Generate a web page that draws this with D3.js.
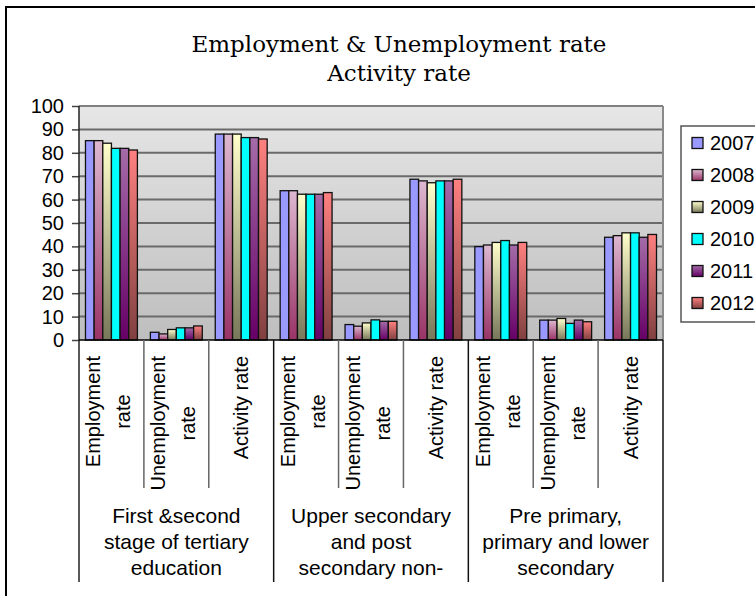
<!DOCTYPE html>
<html><head><meta charset="utf-8">
<script src="https://cdn.jsdelivr.net/npm/d3@7/dist/d3.min.js"></script>
<style>body{margin:0;background:#fff}svg{display:block}</style>
</head><body><svg id="c" width="755" height="596"></svg>
<script>
// ---- data ----
const titleLines = ["Employment & Unemployment rate", "Activity rate"];
const groups = [
  "First &second stage of tertiary education",
  "Upper secondary and post secondary non-",
  "Pre primary, primary and lower secondary"
];
const measures = ["Employment rate", "Unemployment rate", "Activity rate"];
const years = ["2007", "2008", "2009", "2010", "2011", "2012"];
const v2007 = [85.2, 3.3, 88.0, 63.8, 6.6, 68.7, 39.9, 8.5, 43.9];
const v2008 = [85.2, 2.6, 88.0, 63.8, 5.9, 68.0, 40.6, 8.5, 44.6];
const v2009 = [84.1, 4.5, 88.0, 62.3, 7.3, 67.2, 41.7, 9.2, 45.8];
const v2010 = [81.9, 5.2, 86.5, 62.3, 8.6, 68.0, 42.5, 7.1, 45.8];
const v2011 = [81.9, 5.2, 86.5, 62.3, 8.0, 68.0, 40.6, 8.5, 43.9];
const v2012 = [81.2, 6.0, 85.9, 63.0, 8.0, 68.7, 41.7, 7.8, 45.1];
const yTicks = [0, 10, 20, 30, 40, 50, 60, 70, 80, 90, 100];
const colorTop = ["#9999FF", "#DDB8D0", "#FFFFCC", "#00FFFF", "#A46CA8", "#FF8080"];
const colorBottom = ["#9999FF", "#993366", "#77775A", "#00FFFF", "#660066", "#804040"];

const series = [v2007, v2008, v2009, v2010, v2011, v2012];
const cats = [];
groups.forEach((g, gi) => measures.forEach((m, mi) => cats.push({g: gi, m: m, i: gi * 3 + mi})));

// ---- layout ----
const svg = d3.select("#c");
const X0 = 79, X1 = 663, YT = 106, YB = 340;
const sans = "'Liberation Sans', Arial, sans-serif";

const defs = svg.append("defs");
const bg = defs.append("linearGradient").attr("id", "bg").attr("x1", 0).attr("y1", 0).attr("x2", 0).attr("y2", 1);
bg.append("stop").attr("offset", 0).attr("stop-color", "#E6E6E6");
bg.append("stop").attr("offset", 1).attr("stop-color", "#BEBEBE");
years.forEach((y, k) => {
  const g = defs.append("linearGradient").attr("id", "g" + k).attr("x1", 0).attr("y1", 0).attr("x2", 0).attr("y2", 1);
  g.append("stop").attr("offset", 0).attr("stop-color", colorTop[k]);
  g.append("stop").attr("offset", 1).attr("stop-color", colorBottom[k]);
});

// outer frame
svg.append("rect").attr("x", 6).attr("y", 7).attr("width", 800).attr("height", 700)
  .attr("fill", "none").attr("stroke", "#000").attr("stroke-width", 2);

// title
svg.append("g").selectAll("text").data(titleLines).join("text")
  .attr("x", 399).attr("y", (d, i) => 52 + i * 29)
  .attr("text-anchor", "middle")
  .style("font-family", "'DejaVu Serif', serif").style("font-size", "23px").attr("fill", "#000")
  .text(d => d);

const x = d3.scaleBand().domain(d3.range(cats.length)).range([X0, X1]).padding(0);
const bw = x.bandwidth();
const xi = d3.scaleBand().domain(years).range([0.1 * bw, 0.9 * bw]).padding(0);
const y = d3.scaleLinear().domain([0, 100]).range([YB, YT]);

// plot background
svg.append("rect").attr("x", X0).attr("y", YT).attr("width", X1 - X0).attr("height", YB - YT).attr("fill", "url(#bg)");

// gridlines
svg.append("g").selectAll("line").data(yTicks.filter(t => t > 0)).join("line")
  .attr("x1", X0).attr("x2", X1).attr("y1", d => y(d)).attr("y2", d => y(d))
  .attr("stroke", "#6a6a6a").attr("stroke-width", 2);
svg.append("line").attr("x1", X1).attr("x2", X1).attr("y1", YT).attr("y2", YB)
  .attr("stroke", "#8a8a8a").attr("stroke-width", 2);
svg.append("line").attr("x1", X0).attr("x2", X1).attr("y1", YT).attr("y2", YT)
  .attr("stroke", "#808080").attr("stroke-width", 2);

// bars
const barG = svg.append("g");
years.forEach((yr, k) => {
  barG.append("g").selectAll("rect").data(series[k]).join("rect")
    .attr("x", (d, i) => x(i) + xi(yr))
    .attr("y", d => y(d))
    .attr("width", xi.bandwidth())
    .attr("height", d => YB - y(d))
    .attr("fill", "url(#g" + k + ")")
    .attr("stroke", "#111").attr("stroke-width", 1.3);
});

// y axis
const yAxis = d3.axisLeft(y).tickValues(yTicks).tickSize(7).tickPadding(8);
const ya = svg.append("g").attr("transform", `translate(${X0},0)`).call(yAxis);
ya.select(".domain").remove();
ya.selectAll(".tick line").attr("stroke", "#444").attr("stroke-width", 1.5);
ya.selectAll(".tick text").style("font-family", sans).style("font-size", "20px").attr("fill", "#000");
svg.append("line").attr("x1", X0).attr("x2", X0).attr("y1", YT).attr("y2", 582)
  .attr("stroke", "#222").attr("stroke-width", 1.5);
svg.append("line").attr("x1", X0).attr("x2", X1).attr("y1", YB).attr("y2", YB)
  .attr("stroke", "#000").attr("stroke-width", 1.5);

// category separators
const bounds = d3.range(1, cats.length + 1);
svg.append("g").selectAll("line").data(bounds).join("line")
  .attr("x1", d => (d < cats.length ? x(d) : X1)).attr("x2", d => (d < cats.length ? x(d) : X1))
  .attr("y1", YB).attr("y2", d => (d % 3 === 0 ? 582 : 488))
  .attr("stroke", d => (d % 3 === 0 ? "#111" : "#666")).attr("stroke-width", 1.5);

// word wrap helper
const measurer = svg.append("text").style("font-family", sans).style("visibility", "hidden");
function textW(s, size) { measurer.style("font-size", size + "px").text(s); return measurer.node().getComputedTextLength(); }
function wrap(s, size, maxW) {
  const words = s.split(" ");
  const lines = []; let cur = words[0];
  for (let i = 1; i < words.length; i++) {
    const cand = cur + " " + words[i];
    if (textW(cand, size) <= maxW) cur = cand; else { lines.push(cur); cur = words[i]; }
  }
  lines.push(cur);
  return lines;
}

// rotated category labels
cats.forEach(c => {
  const cx = x(c.i) + bw / 2;
  const lines = wrap(c.m, 20, 128);
  const maxL = d3.max(lines, l => textW(l, 20));
  const n = lines.length;
  const g = svg.append("g").attr("transform", `translate(${cx},356) rotate(-90)`);
  lines.forEach((l, i) => {
    g.append("text").attr("x", -maxL / 2).attr("y", 7 + (i - (n - 1) / 2) * 30 - (n - 1) * 3)
      .attr("text-anchor", "middle").style("font-family", sans).style("font-size", "20px").attr("fill", "#000")
      .text(l);
  });
});

// group labels
const gl = svg.append("g");
groups.forEach((gname, gi) => {
  const cx = (x(gi * 3) + (gi * 3 + 3 < cats.length ? x(gi * 3 + 3) : X1)) / 2;
  const lines = wrap(gname, 21, 176);
  lines.forEach((l, i) => {
    gl.append("text").attr("x", cx).attr("y", 523 + i * 26).attr("text-anchor", "middle")
      .style("font-family", sans).style("font-size", "21px").attr("fill", "#000").text(l);
  });
});

// legend
svg.append("rect").attr("x", 681).attr("y", 126).attr("width", 100).attr("height", 196)
  .attr("fill", "#fff").attr("stroke", "#555").attr("stroke-width", 1.5);
const lg = svg.append("g").selectAll("g").data(years).join("g")
  .attr("transform", (d, i) => `translate(0,${143 + i * 32})`);
lg.append("rect").attr("x", 692).attr("y", -5.5).attr("width", 11).attr("height", 11)
  .attr("fill", (d, i) => "url(#g" + i + ")").attr("stroke", "#111").attr("stroke-width", 1.3);
lg.append("text").attr("x", 710).attr("y", 7).style("font-family", sans).style("font-size", "20px")
  .attr("fill", "#000").text(d => d);
</script>
</body></html>
